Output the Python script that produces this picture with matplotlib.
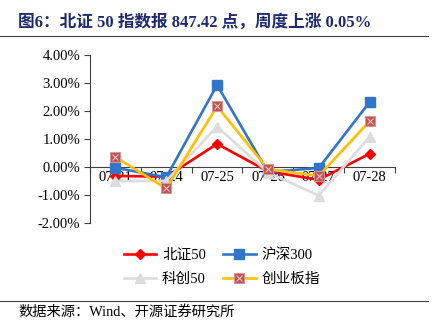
import matplotlib
matplotlib.use('Agg')
import matplotlib.pyplot as plt
from matplotlib.lines import Line2D
from matplotlib.legend_handler import HandlerTuple
from matplotlib.ticker import FuncFormatter, FixedLocator

# ---------------------------------------------------------------------------
# DATA  (weekly daily change, %)
# ---------------------------------------------------------------------------
dates = ["07-21", "07-24", "07-25", "07-26", "07-27", "07-28"]
bz50 = [-0.32, -0.35, 0.82, -0.16, -0.46, 0.47]      # 北证50
hs300 = [-0.03, -0.37, 2.92, -0.18, -0.04, 2.31]     # 沪深300
kc50 = [-0.51, -0.50, 1.44, -0.20, -1.02, 1.07]      # 科创50
cyb = [0.35, -0.77, 2.16, -0.08, -0.32, 1.63]        # 创业板指

names = ["北证50", "沪深300", "科创50", "创业板指"]
y_ticks = [-2, -1, 0, 1, 2, 3, 4]

title = "图6：北证 50 指数报 847.42 点，周度上涨 0.05%"
source = "数据来源：Wind、开源证券研究所"

# ---------------------------------------------------------------------------
# STYLE
# ---------------------------------------------------------------------------
MIX = ['Liberation Serif', 'Noto Sans CJK SC']
plt.rcParams['font.family'] = MIX
plt.rcParams['axes.unicode_minus'] = False

fig = plt.figure(figsize=(4.42, 3.34), dpi=100)
ax = fig.add_axes([90 / 442, 1 - 223 / 334, 305 / 442, 168.3 / 334])

x = list(range(len(dates)))
lw = 1.9
(l1,) = ax.plot(x, bz50, color='#FF0000', lw=lw, marker='D', ms=5,
                mfc='#FF0000', mec='#FF0000', zorder=3)
(l2,) = ax.plot(x, hs300, color='#3275C8', lw=lw, marker='s', ms=6.5,
                mfc='#3275C8', mec='#3275C8', zorder=4)
(l3,) = ax.plot(x, kc50, color='#DCDCDC', lw=lw, marker='^', ms=6.5,
                mfc='#DCDCDC', mec='#DCDCDC', zorder=5)
(l4,) = ax.plot(x, cyb, color='#FFC000', lw=lw, marker='s', ms=7,
                mfc='#C0504D', mec='#D99694', mew=0.8, zorder=6)
(l4x,) = ax.plot(x, cyb, ls='none', marker='x', ms=5, mec='#E8C4C3',
                 mew=0.8, zorder=7)

ax.set_xlim(-0.5, len(dates) - 0.5)
ax.set_ylim(-2, 4)
ax.yaxis.set_major_locator(FixedLocator(y_ticks))
ax.yaxis.set_major_formatter(FuncFormatter(lambda v, _: f"{v:.2f}%"))

# category boundaries as tick marks, labels at centres
ax.xaxis.set_major_locator(FixedLocator([i + 0.5 for i in range(-1, len(dates))]))
ax.xaxis.set_major_formatter(FuncFormatter(lambda v, _: ""))
ax.set_xticks(x, minor=True)
ax.set_xticklabels(dates, minor=True)
ax.tick_params(axis='x', which='major', direction='out', length=4,
               color='#404040', width=0.8)
ax.tick_params(axis='x', which='minor', length=0, pad=3, labelsize=10.5,
               labelcolor='#000000')
ax.tick_params(axis='y', direction='out', length=4, color='#404040',
               width=0.8, labelsize=10.5, pad=3)

ax.spines['bottom'].set_position(('data', 0))
for s in ('bottom', 'left'):
    ax.spines[s].set_color('#404040')
    ax.spines[s].set_linewidth(0.8)
ax.spines['top'].set_visible(False)
ax.spines['right'].set_visible(False)

# matplotlib fills legend columns first; reorder so rows read as in the source
leg = fig.legend([l1, l3, l2, (l4, l4x)],
                 [names[0], names[2], names[1], names[3]], ncol=2,
                 handler_map={tuple: HandlerTuple(ndivide=1)},
                 loc='center', bbox_to_anchor=(222 / 442, 1 - 267 / 334),
                 frameon=False, fontsize=10.5, handlelength=2.2,
                 columnspacing=1.2, labelspacing=0.75, handletextpad=0.4)

# title, rules and source
fig.text(18 / 442, 1 - 22 / 334, title, fontsize=12, fontweight='bold',
         color='#1F2A6E', ha='left', va='center')
fig.add_artist(Line2D([0, 428 / 442], [1 - 36 / 334] * 2,
                      color='#404040', lw=0.8))
fig.add_artist(Line2D([0, 428 / 442], [1 - 300.7 / 334] * 2,
                      color='#404040', lw=0.8))
fig.text(18 / 442, 1 - 312 / 334, source, fontsize=10.3, color='#000000',
         ha='left', va='center')

fig.savefig('out.png', dpi=100)
